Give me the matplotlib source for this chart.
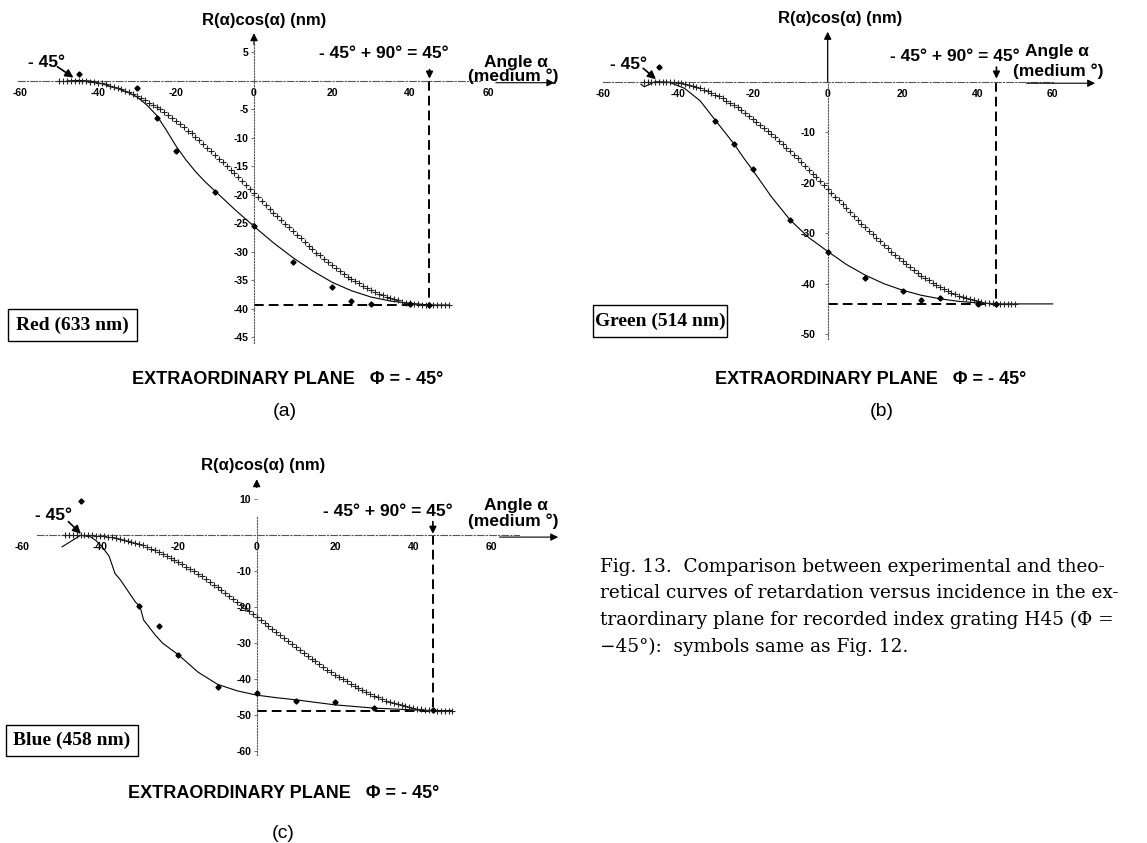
import numpy as np
import matplotlib
matplotlib.use("Agg")
import matplotlib.pyplot as plt
from matplotlib.patches import Rectangle

# ---------------- data ----------------
ang_theo_a = np.arange(-50, 51)
theo_a = [0.0, 0.0, 0.0, 0.0, 0.0,
          0.0, 0.0, 0.0, -0.1, -0.2, -0.3, -0.4, -0.6, -0.8, -1.0,
          -1.2, -1.4, -1.7, -2.0, -2.3, -2.6, -3.0, -3.4, -3.8, -4.2,
          -4.6, -5.0, -5.5, -6.0, -6.5, -7.0, -7.5, -8.1, -8.7, -9.2,
          -9.8, -10.4, -11.0, -11.7, -12.3, -12.9, -13.6, -14.2, -14.9, -15.6,
          -16.2, -16.9, -17.6, -18.3, -19.0, -19.7, -20.3, -21.0, -21.7, -22.4,
          -23.1, -23.7, -24.4, -25.1, -25.7, -26.4, -27.0, -27.6, -28.3, -28.9,
          -29.5, -30.1, -30.6, -31.2, -31.8, -32.3, -32.8, -33.3, -33.8, -34.3,
          -34.7, -35.1, -35.5, -35.9, -36.3, -36.7, -37.0, -37.3, -37.6, -37.9,
          -38.1, -38.3, -38.5, -38.7, -38.9, -39.0, -39.1, -39.2, -39.3, -39.3,
          -39.3, -39.3, -39.3, -39.3, -39.3, -39.3]
ang_exp_a = [-45, -30, -25, -20, -10, 0, 10, 20, 25, 30, 40, 45]
exp_a = [1.2, -1.3, -6.5, -12.2, -19.4, -25.4, -31.7, -36.1, -38.6, -39.1, -39.2, -39.3]
ang_fit_a = [-48, -45, -42, -40, -38, -35, -32, -30, -27.5, -25, -22.5, -20, -17.5, -15,
             -12.5, -10, -7.5, -5, -2.5, 0, 5, 10, 15, 20, 25, 30, 35, 40, 45, 50]
fit_a = [0.0, 0.1, 0.0, -0.3, -0.7, -1.3, -2.1, -2.8, -4.2, -6.0, -8.6, -11.4, -13.8, -15.9,
         -17.7, -19.3, -20.9, -22.5, -24.0, -25.5, -28.4, -31.0, -33.3, -35.3, -36.8, -37.9,
         -38.6, -39.0, -39.3, -39.3]

ang_theo_b = np.arange(-49, 51)
theo_b = [0.0, 0.0, 0.0, 0.0, 0.0, 0.0, 0.0, -0.1, -0.1, -0.2,
          -0.3, -0.5, -0.7, -0.9, -1.1, -1.3, -1.6, -1.9, -2.2, -2.6,
          -2.9, -3.3, -3.8, -4.2, -4.7, -5.1, -5.6, -6.2, -6.7, -7.3,
          -7.9, -8.5, -9.1, -9.7, -10.3, -11.0, -11.7, -12.4, -13.1, -13.8,
          -14.5, -15.2, -15.9, -16.7, -17.4, -18.2, -18.9, -19.7, -20.5, -21.2,
          -22.0, -22.8, -23.5, -24.3, -25.1, -25.8, -26.6, -27.3, -28.1, -28.8,
          -29.5, -30.2, -30.9, -31.6, -32.3, -33.0, -33.7, -34.3, -34.9, -35.5,
          -36.1, -36.7, -37.3, -37.8, -38.4, -38.9, -39.3, -39.8, -40.2, -40.7,
          -41.1, -41.4, -41.8, -42.1, -42.4, -42.7, -42.9, -43.1, -43.3, -43.5,
          -43.7, -43.8, -43.9, -43.9, -44.0, -44.0, -44.0, -44.0, -44.0, -44.0]
ang_exp_b = [-45, -30, -25, -20, -10, 0, 10, 20, 25, 30, 40, 45]
exp_b = [3.0, -7.7, -12.4, -17.3, -27.4, -33.7, -38.8, -41.4, -43.2, -42.8, -44.0, -44.0]
ang_fit_b = [-49.8, -48.9, -46, -42.3, -38.2, -34, -30, -25, -22.5, -20, -15, -10, -5, 0,
             5, 10, 15, 20, 25, 30, 35, 40, 45, 50, 60]
fit_b = [-0.5, -1.0, 0.0, -0.1, -1.3, -3.8, -7.6, -12.3, -15.0, -17.5, -22.8, -27.4, -30.9,
         -33.6, -36.2, -38.3, -40.0, -41.3, -42.3, -43.0, -43.5, -43.8, -44.0, -44.0, -44.0]

ang_theo_c = np.arange(-49, 51)
theo_c = [0.0, 0.0, 0.0, 0.0, 0.0, 0.0, 0.0, 0.0, -0.1, -0.1,
          -0.2, -0.4, -0.5, -0.7, -0.9, -1.2, -1.5, -1.8, -2.1, -2.5,
          -2.8, -3.3, -3.7, -4.2, -4.7, -5.2, -5.7, -6.3, -6.8, -7.4,
          -8.1, -8.7, -9.4, -10.0, -10.7, -11.4, -12.2, -12.9, -13.7, -14.4,
          -15.2, -16.0, -16.8, -17.6, -18.5, -19.3, -20.1, -21.0, -21.8, -22.7,
          -23.5, -24.4, -25.2, -26.0, -26.9, -27.7, -28.6, -29.4, -30.2, -31.1,
          -31.9, -32.7, -33.5, -34.3, -35.0, -35.8, -36.5, -37.3, -38.0, -38.7,
          -39.3, -40.0, -40.6, -41.3, -41.9, -42.4, -43.0, -43.5, -44.0, -44.5,
          -45.0, -45.4, -45.9, -46.2, -46.6, -46.9, -47.2, -47.5, -47.8, -48.0,
          -48.2, -48.3, -48.5, -48.6, -48.6, -48.7, -48.7, -48.7, -48.7, -48.7]
ang_exp_c = [-45, -30, -25, -20, -10, 0, 10, 20, 30, 45]
exp_c = [9.6, -19.6, -25.2, -33.3, -42.0, -43.9, -45.9, -46.4, -47.9, -48.5]
ang_fit_c = [-49.7, -45, -42.5, -41, -39.5, -37.7, -36.2, -34.8, -31, -29.8, -28.9, -26, -24,
             -20, -15, -10, -5, 0, 5, 10, 20, 30, 40, 45, 50]
fit_c = [-3.2, 0.0, -0.4, -1.5, -3.2, -5.8, -10.6, -12.4, -18.5, -19.8, -23.5, -27.6, -30.0,
         -33.2, -38.0, -41.4, -43.2, -44.4, -45.1, -45.7, -47.1, -48.0, -48.5, -48.7, -48.7]

x_ticks = [-60, -40, -20, 0, 20, 40, 60]
y_ticks_a = [5, -5, -10, -15, -20, -25, -30, -35, -40, -45]
y_ticks_b = [-10, -20, -30, -40, -50]
y_ticks_c = [10, -10, -20, -30, -40, -50, -60]

labels = ["Red (633 nm)", "Green (514 nm)", "Blue (458 nm)"]
y_title = "R(α)cos(α) (nm)"
x_title = ["Angle α", "(medium °)"]
plane_text = "EXTRAORDINARY PLANE   Φ = - 45°"
left_mark = "- 45°"
right_mark = "- 45° + 90° = 45°"
panel_tags = ["(a)", "(b)", "(c)"]
caption = ["Fig. 13.  Comparison between experimental and theo-",
           "retical curves of retardation versus incidence in the ex-",
           "traordinary plane for recorded index grating H45 (Φ =",
           "\u221245°):  symbols same as Fig. 12."]

# ---------------- figure ----------------
W, H = 1147, 843
plt.rcParams['font.family'] = ['Liberation Sans', 'DejaVu Sans']
fig = plt.figure(figsize=(W / 100, H / 100), dpi=100)


def make_axes(ox, oy, sx, sy, xlim, ylim):
    left = ox + sx * xlim[0]
    right = ox + sx * xlim[1]
    top = oy - sy * ylim[1]
    bottom = oy - sy * ylim[0]
    ax = fig.add_axes([left / W, 1 - bottom / H, (right - left) / W, (bottom - top) / H])
    ax.set_xlim(*xlim)
    ax.set_ylim(*ylim)
    ax.patch.set_alpha(0)
    return ax


def ftext(px, py, s, **kw):
    fig.text(px / W, 1 - py / H, s, **kw)


def fbox(x0, y0, x1, y1):
    fig.add_artist(Rectangle((x0 / W, 1 - y1 / H), (x1 - x0) / W, (y1 - y0) / H,
                             transform=fig.transFigure, fill=False, ec='k', lw=1.0))


panels = [
    dict(ax=(254, 81, 3.9, 5.7, (-65, 82), (-50, 13)),
         theo=(ang_theo_a, theo_a), exp=(ang_exp_a, exp_a), fit=(ang_fit_a, fit_a),
         yt=y_ticks_a, ybounds=(-46, 6.5), xbounds=(-60.5, 58), ypad=1.5,
         yarrow=((0, 6.4), (0, 8.4)), title=(2.6, 10.7),
         lmark=(-53.3, 3.2), larr=((-50.4, 2.5), (-46.3, 0.6)),
         rmark=(33.2, 4.8), rarr=((45, 2.0), (45, 0.4)),
         ang=((67.2, 3.3), (66.4, 0.9)), harr=((62, -0.3), (77, -0.3)),
         box=(8, 309, 137, 341), boxtxt=(72.5, 325),
         plane=(288, 380), tag=(285, 412)),
    dict(ax=(827.7, 81.7, 3.75, 5.05, (-62, 80), (-55, 15)),
         theo=(ang_theo_b, theo_b), exp=(ang_exp_b, exp_b), fit=(ang_fit_b, fit_b),
         yt=y_ticks_b, ybounds=(-51, 0), xbounds=(-60, 60), ypad=6,
         yarrow=((0, 0), (0, 9.9)), title=(3.3, 12.6),
         lmark=(-53.0, 3.5), larr=((-49.2, 2.65), (-45.8, 0.5)),
         rmark=(33.9, 5.0), rarr=((45, 2.9), (45, 0.6)),
         ang=((61.0, 5.9), (61.5, 2.0)), harr=((53, -0.3), (71.3, -0.3)),
         box=(593, 305, 727, 337), boxtxt=(660, 321),
         plane=(871, 380), tag=(882, 412)),
    dict(ax=(256.7, 535.3, 3.915, 3.6, (-64, 80), (-65, 20)),
         theo=(ang_theo_c, theo_c), exp=(ang_exp_c, exp_c), fit=(ang_fit_c, fit_c),
         yt=y_ticks_c, ybounds=(-61, 5), xbounds=(-56, 67), ypad=1.5,
         yarrow=((0, 13.3), (0, 15.6)), title=(1.7, 19.5),
         lmark=(-51.8, 5.6), larr=((-48.1, 3.8), (-44.9, 0.4)),
         rmark=(33.4, 6.6), rarr=((45, 3.8), (45, 0.4)),
         ang=((66.2, 8.4), (65.5, 3.8)), harr=((62, -0.5), (77, -0.5)),
         box=(6, 725, 138, 756), boxtxt=(72, 740.5),
         plane=(284, 793), tag=(283, 833)),
]

for i, p in enumerate(panels):
    ax = make_axes(*p['ax'])
    for s in ('top', 'right'):
        ax.spines[s].set_visible(False)
    ax.spines['left'].set_position(('data', 0))
    ax.spines['bottom'].set_position(('data', 0))
    ax.spines['left'].set_bounds(*p['ybounds'])
    ax.spines['bottom'].set_bounds(*p['xbounds'])
    ax.spines['left'].set_linestyle((0, (1, 1.6)))
    ax.spines['bottom'].set_linestyle((0, (6, 2, 1, 2)))
    for s in ('left', 'bottom'):
        ax.spines[s].set_color('#555555')
        ax.spines[s].set_linewidth(0.8)

    ax.set_xticks(x_ticks)
    ax.set_xticklabels([str(v) for v in x_ticks], fontsize=7.5, fontweight='bold')
    ax.tick_params(axis='x', length=0, pad=5)
    ax.set_yticks(p['yt'])
    ax.set_yticklabels([str(v) for v in p['yt']], fontsize=7.5, fontweight='bold')
    ax.tick_params(axis='y', length=2.5, width=0.6, pad=p['ypad'], direction='out', color='#555555')

    # y axis arrow
    ax.annotate('', xy=p['yarrow'][1], xytext=p['yarrow'][0],
                arrowprops=dict(arrowstyle='-|>', color='k', lw=0.9, mutation_scale=11,
                                shrinkA=0, shrinkB=0))
    ax.text(*p['title'], y_title, ha='center', va='center', fontsize=12, fontweight='bold')

    # curves
    ax.plot(p['fit'][0], p['fit'][1], color='k', lw=0.8, zorder=3)
    ax.plot(p['theo'][0], p['theo'][1], ls='none', marker='+', ms=4, mew=0.8,
            color='#222222', zorder=4)
    ax.plot(p['exp'][0], p['exp'][1], ls='none', marker='D', ms=2.6, color='k', zorder=5)

    # dashed guides to the 45 degree level
    R = p['theo'][1][-1]
    ax.plot([45, 45], [0, R], color='k', lw=1.4, dashes=(5, 2.6), zorder=2)
    ax.plot([0, 45], [R, R], color='k', lw=1.4, dashes=(5, 2.6), zorder=2)

    # annotations
    ax.text(*p['lmark'], left_mark, ha='center', va='center', fontsize=12.5, fontweight='bold')
    ax.annotate('', xy=p['larr'][1], xytext=p['larr'][0],
                arrowprops=dict(arrowstyle='-|>', color='k', lw=1.2, mutation_scale=12,
                                shrinkA=0, shrinkB=0))
    ax.text(*p['rmark'], right_mark, ha='center', va='center', fontsize=12.5, fontweight='bold')
    ax.annotate('', xy=p['rarr'][1], xytext=p['rarr'][0],
                arrowprops=dict(arrowstyle='-|>', color='k', lw=1.2, mutation_scale=10,
                                shrinkA=0, shrinkB=0))
    ax.text(*p['ang'][0], x_title[0], ha='center', va='center', fontsize=12.5, fontweight='bold')
    ax.text(*p['ang'][1], x_title[1], ha='center', va='center', fontsize=12.5, fontweight='bold')
    ax.annotate('', xy=p['harr'][1], xytext=p['harr'][0],
                arrowprops=dict(arrowstyle='-|>', color='k', lw=0.8, mutation_scale=11,
                                shrinkA=0, shrinkB=0))

    # label box, plane text and panel tag
    fbox(*p['box'])
    ftext(*p['boxtxt'], labels[i], ha='center', va='center', fontsize=14,
          fontweight='bold', family=['Liberation Serif', 'DejaVu Serif'])
    ftext(*p['plane'], plane_text, ha='center', va='center', fontsize=13, fontweight='bold')
    ftext(*p['tag'], panel_tags[i], ha='center', va='center', fontsize=14)

# caption
for k, line in enumerate(caption):
    ftext(600, 567 + 26.5 * k, line, ha='left', va='center', fontsize=13.3,
          family=['DejaVu Serif'])

fig.savefig('out.png', dpi=100)
